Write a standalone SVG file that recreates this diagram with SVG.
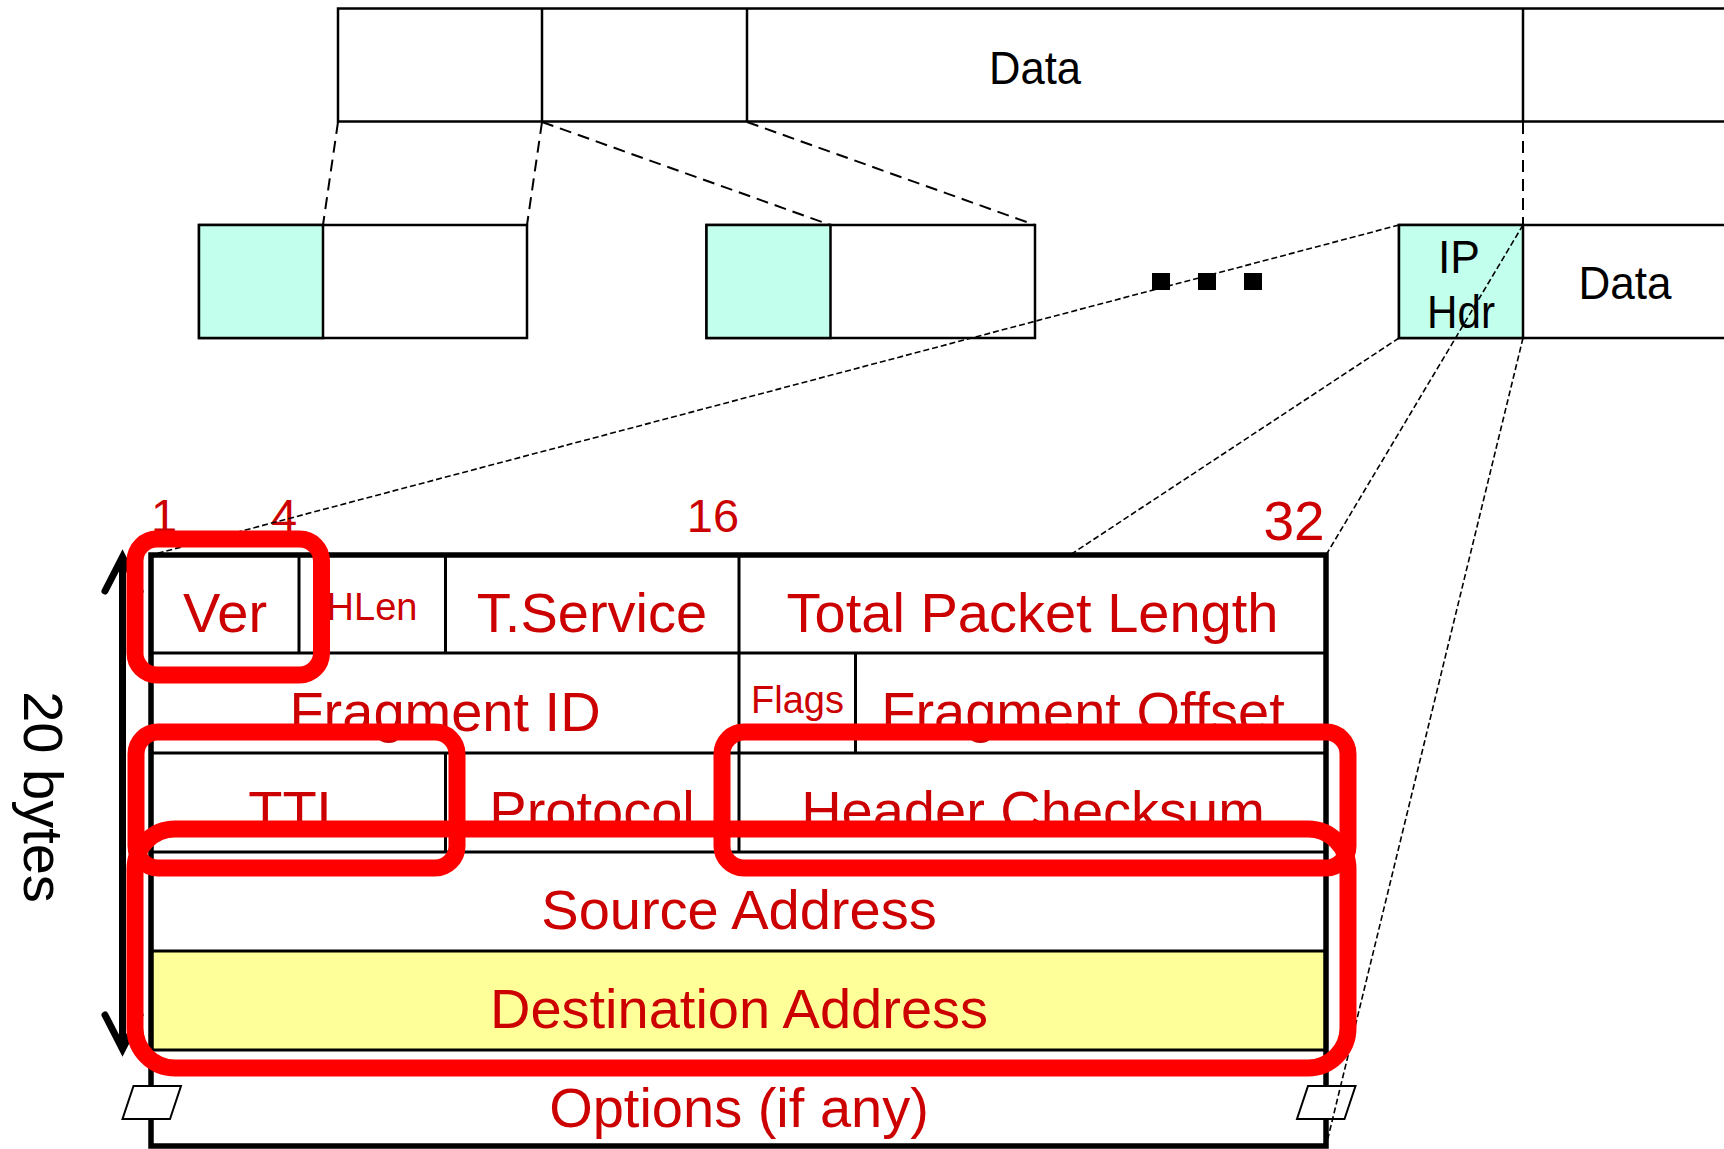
<svg xmlns="http://www.w3.org/2000/svg" width="1724" height="1149" viewBox="0 0 1724 1149">
  <defs>
    <style>
      .box{fill:#ffffff;stroke:#000000;stroke-width:2.5}
      .hdr{fill:#C2FFEC;stroke:#000000;stroke-width:2.5}
      .lbl{font-family:"Liberation Sans",Arial,Helvetica,sans-serif;fill:#000000;text-anchor:middle;font-size:47px}
      .fld{font-family:"Liberation Sans",Arial,Helvetica,sans-serif;fill:#CC0000;text-anchor:middle;font-size:56px}
      .num{font-family:"Liberation Sans",Arial,Helvetica,sans-serif;fill:#CC0000;text-anchor:middle;font-size:47px}
      .cell{stroke:#000000;stroke-width:3;fill:none}
      .dash1{stroke:#000000;stroke-width:2;stroke-dasharray:12 7;fill:none}
      .dash2{stroke:#000000;stroke-width:1.6;stroke-dasharray:6 3;fill:none}
      .brk{fill:#ffffff;stroke:#000000;stroke-width:2}
      .hl{fill:none;stroke:#FF0000;stroke-width:17}
    </style>
  </defs>

  <rect width="1724" height="1149" fill="#ffffff"/>

  <!-- original datagram -->
  <g id="datagram">
    <rect class="box" x="338" y="8.5" width="1420" height="113"/>
    <line class="box" x1="542" y1="8.5" x2="542" y2="121.5"/>
    <line class="box" x1="747" y1="8.5" x2="747" y2="121.5"/>
    <line class="box" x1="1523" y1="8.5" x2="1523" y2="121.5"/>
    <text class="lbl" x="1035" y="84" textLength="92" lengthAdjust="spacingAndGlyphs">Data</text>
  </g>

  <!-- fragments -->
  <g id="fragment-1">
    <rect class="box" x="199" y="225" width="328" height="113"/>
    <rect class="hdr" x="199" y="225" width="124" height="113"/>
  </g>
  <g id="fragment-2">
    <rect class="box" x="706.5" y="225" width="328.5" height="113"/>
    <rect class="hdr" x="706.5" y="225" width="124" height="113"/>
  </g>
  <g id="ellipsis">
    <rect x="1152" y="273" width="18" height="17" fill="#000000"/>
    <rect x="1198" y="273" width="18" height="17" fill="#000000"/>
    <rect x="1244" y="273" width="18" height="17" fill="#000000"/>
  </g>
  <g id="fragment-n">
    <rect class="box" x="1399" y="225" width="360" height="113"/>
    <rect class="hdr" x="1399" y="225" width="124" height="113"/>
    <text class="lbl" x="1459" y="273" textLength="42" lengthAdjust="spacingAndGlyphs">IP</text>
    <text class="lbl" x="1461" y="328" textLength="68" lengthAdjust="spacingAndGlyphs">Hdr</text>
    <text class="lbl" x="1625" y="299" textLength="93" lengthAdjust="spacingAndGlyphs">Data</text>
  </g>

  <!-- bit positions -->
  <g id="bit-ruler">
    <text class="num" x="164" y="532">1</text>
    <text class="num" x="284" y="532">4</text>
    <text class="num" x="713" y="532">16</text>
    <text class="num" x="1294" y="540" style="font-size:55px">32</text>
  </g>

  <!-- IPv4 header layout -->
  <g id="ip-header">
    <rect x="151" y="555" width="1175" height="591" fill="#ffffff"/>
    <rect x="151" y="951" width="1175" height="99" fill="#FFFF99"/>
    <g class="cell">
      <line x1="151" y1="653" x2="1326" y2="653"/>
      <line x1="151" y1="753" x2="1326" y2="753"/>
      <line x1="151" y1="852" x2="1326" y2="852"/>
      <line x1="151" y1="951" x2="1326" y2="951"/>
      <line x1="151" y1="1050" x2="1326" y2="1050"/>
      <line x1="299" y1="555" x2="299" y2="653"/>
      <line x1="445.5" y1="555" x2="445.5" y2="653"/>
      <line x1="739" y1="555" x2="739" y2="852"/>
      <line x1="855.5" y1="653" x2="855.5" y2="753"/>
      <line x1="445.5" y1="753" x2="445.5" y2="852"/>
    </g>
    <rect x="151" y="555" width="1175" height="591" fill="none" stroke="#000000" stroke-width="5.5"/>

    <g id="field-ver"><text class="fld" x="225" y="632">Ver</text></g>
    <g id="field-hlen"><text class="fld" x="372" y="620" style="font-size:38px">HLen</text></g>
    <g id="field-tos"><text class="fld" x="592" y="632">T.Service</text></g>
    <g id="field-length"><text class="fld" x="1032.5" y="632">Total Packet Length</text></g>
    <g id="field-id"><text class="fld" x="445" y="731">Fragment ID</text></g>
    <g id="field-flags"><text class="fld" x="797.5" y="713" style="font-size:38px">Flags</text></g>
    <g id="field-offset"><text class="fld" x="1083" y="731">Fragment Offset</text></g>
    <g id="field-ttl"><text class="fld" x="298" y="830">TTL</text></g>
    <g id="field-protocol"><text class="fld" x="592" y="830">Protocol</text></g>
    <g id="field-checksum"><text class="fld" x="1033" y="830">Header Checksum</text></g>
    <g id="field-src"><text class="fld" x="739" y="929">Source Address</text></g>
    <g id="field-dst"><text class="fld" x="739" y="1028">Destination Address</text></g>
    <g id="field-options"><text class="fld" x="739" y="1127">Options (if any)</text></g>

    <!-- break marks on the variable-length options row -->
    <polygon class="brk" points="133.5,1086 181,1086 170,1119 122.5,1119"/>
    <polygon class="brk" points="1308,1086 1355.5,1086 1344.5,1119 1297,1119"/>
  </g>

  <!-- header size -->
  <g id="size-arrow" fill="none" stroke="#000000" stroke-width="7" stroke-linecap="round">
    <line x1="122.5" y1="560" x2="122.5" y2="1046"/>
    <polyline points="105,591 122.5,557 140,591"/>
    <polyline points="105,1015 122.5,1049 140,1015"/>
  </g>
  <text id="size-label" transform="translate(24,797) rotate(90)" font-family="'Liberation Sans',Arial,Helvetica,sans-serif" font-size="56" text-anchor="middle" fill="#000000">20 bytes</text>

  <!-- connectors -->
  <g id="connectors">
    <line class="dash1" x1="338" y1="122" x2="323" y2="225"/>
    <line class="dash1" x1="542" y1="122" x2="527" y2="225"/>
    <line class="dash1" x1="542" y1="122" x2="830.5" y2="225"/>
    <line class="dash1" x1="747" y1="122" x2="1035" y2="225"/>
    <line class="dash1" x1="1523" y1="122" x2="1523" y2="225"/>
    <line class="dash2" x1="1399" y1="225" x2="151" y2="555"/>
    <line class="dash2" x1="1399" y1="338" x2="1070" y2="555"/>
    <line class="dash2" x1="1523" y1="225" x2="1326" y2="555"/>
    <line class="dash2" x1="1523" y1="338" x2="1326" y2="1146"/>
  </g>

  <!-- highlighted fields -->
  <g id="highlights">
    <rect class="hl" x="135" y="539" width="186.5" height="136" rx="22"/>
    <rect class="hl" x="136" y="732" width="321" height="136" rx="22"/>
    <rect class="hl" x="722" y="732" width="626" height="136" rx="22"/>
    <rect class="hl" x="135" y="829" width="1213" height="239" rx="40"/>
  </g>
</svg>
